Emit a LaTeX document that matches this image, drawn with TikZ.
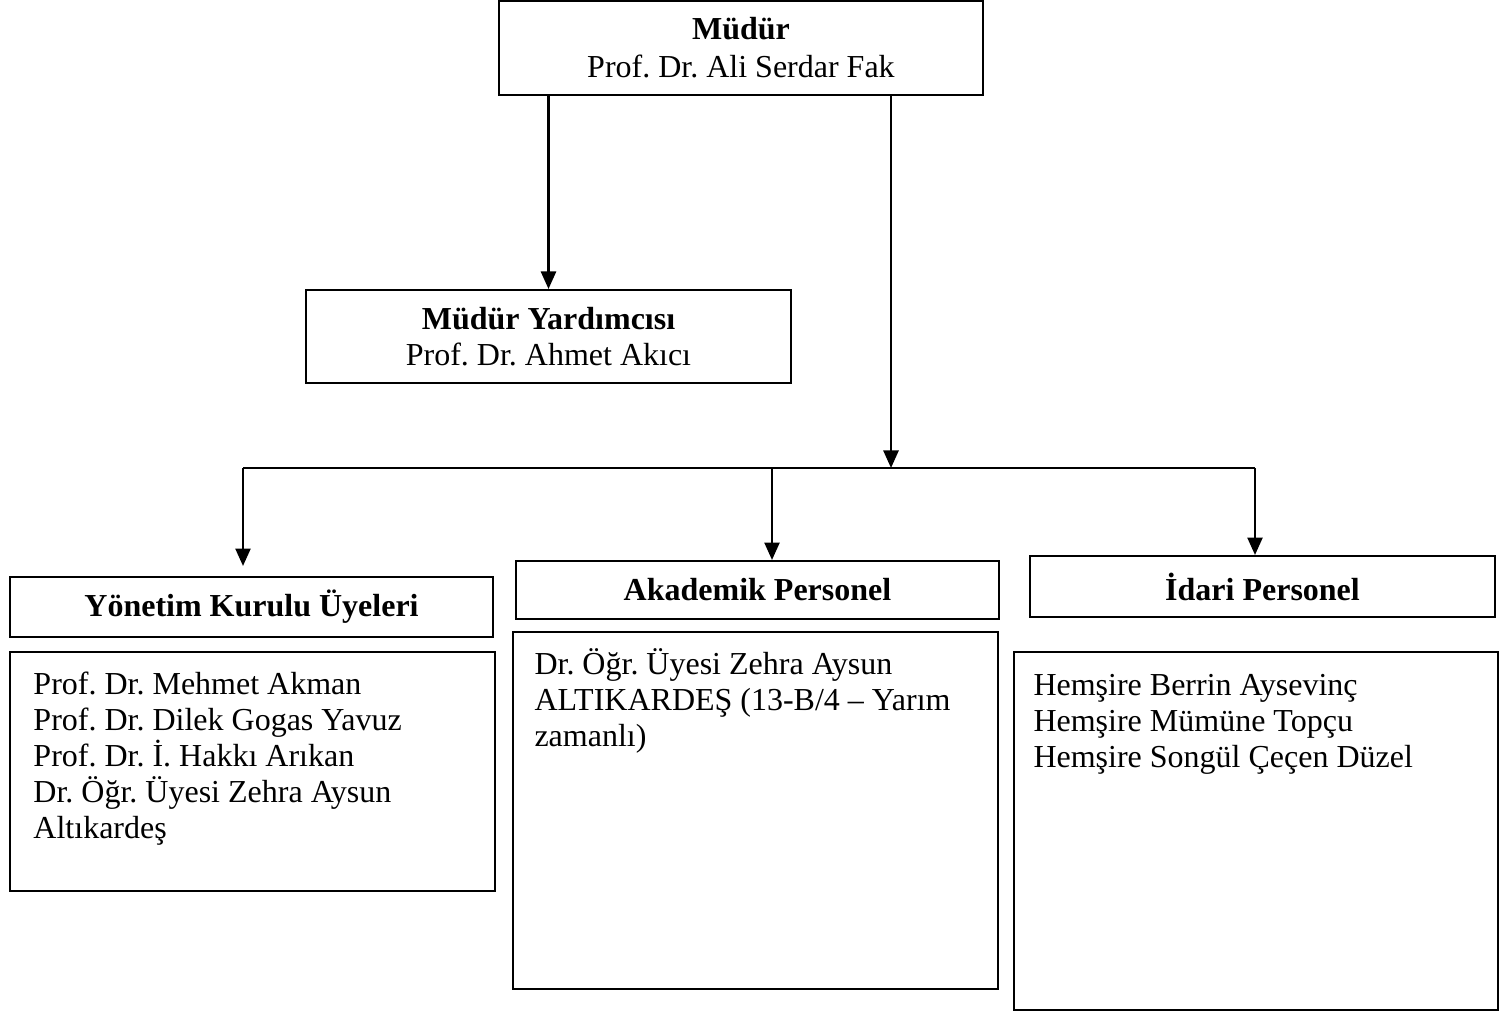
\documentclass[tikz,border=0pt]{standalone}
\usepackage{fontspec}
\setmainfont{Liberation Serif}
\usetikzlibrary{arrows.meta,positioning}

\tikzset{
    box/.style={draw, line width=0.8pt, inner sep=0pt, align=center},
    arr/.style={line width=1pt, -{Triangle[length=7pt,width=6pt]}},
    lst/.style={inner sep=0pt, align=left},
}

\begin{document}
\frenchspacing
\begin{tikzpicture}[x=0.4pt,y=0.4pt,yscale=-1,xscale=1,font=\fontsize{12.8}{14.4}\selectfont]
    \useasboundingbox (0,0) rectangle (1507,1012);
    % Top boxes
    \node[box, minimum width=193.6pt, minimum height=37.6pt] (mudur) at (741,48) {\textbf{Müdür}\\[0.8pt]Prof. Dr. Ali Serdar Fak};
    \node[box, minimum width=194pt, minimum height=37.2pt] (yard) at (548.5,336.5) {\textbf{Müdür Yardımcısı}\\Prof. Dr. Ahmet Akıcı};
    % Header boxes
    \node[box, minimum width=193.2pt, minimum height=24pt] (ykh) at (251.5,607) {\textbf{Yönetim Kurulu Üyeleri}};
    \node[box, minimum width=193.2pt, minimum height=23.2pt] (akh) at (757.5,590) {\textbf{Akademik Personel}};
    \node[box, minimum width=186pt, minimum height=24.4pt] (idh) at (1262.5,586.5) {\textbf{İdari Personel}};
    % List boxes
    \node[box, minimum width=194pt, minimum height=95.6pt] (ykl) at (252.5,771.5) {};
    \node[box, minimum width=194pt, minimum height=142.8pt] (akl) at (755.5,810.5) {};
    \node[box, minimum width=193.6pt, minimum height=143.2pt] (idl) at (1256,831) {};
    % List texts
    \node[lst, below right=8pt and 9.6pt of ykl.north west] (ykt) {Prof. Dr. Mehmet Akman\\Prof. Dr. Dilek Gogas Yavuz\\Prof. Dr. İ. Hakkı Arıkan\\Dr. Öğr. Üyesi Zehra Aysun\\Altıkardeş};
    \node[lst, below right=7pt and 8.8pt of akl.north west] (akt) {Dr. Öğr. Üyesi Zehra Aysun\\ALTIKARDEŞ (13-B/4 – Yarım\\zamanlı)};
    \node[lst, below right=9pt and 8pt of idl.north west] (idt) {Hemşire Berrin Aysevinç\\Hemşire Mümüne Topçu\\Hemşire Songül Çeçen Düzel};
    % Connectors
    \coordinate (jl) at (243,468);
    \coordinate (jm) at (772,468);
    \coordinate (jt) at (891,468);
    \coordinate (jr) at (1255,468);
    \draw[arr] (mudur.south -| yard.north) -- (yard.north);
    \draw[arr] (mudur.south -| jt) -- (jt);
    \draw[line width=0.8pt] (jl) -- (jr);
    \draw[arr, shorten >=4pt] (jl) -- (jl |- ykh.north);
    \draw[arr] (jm) -- (jm |- akh.north);
    \draw[arr] (jr) -- (jr |- idh.north);
\end{tikzpicture}
\end{document}
